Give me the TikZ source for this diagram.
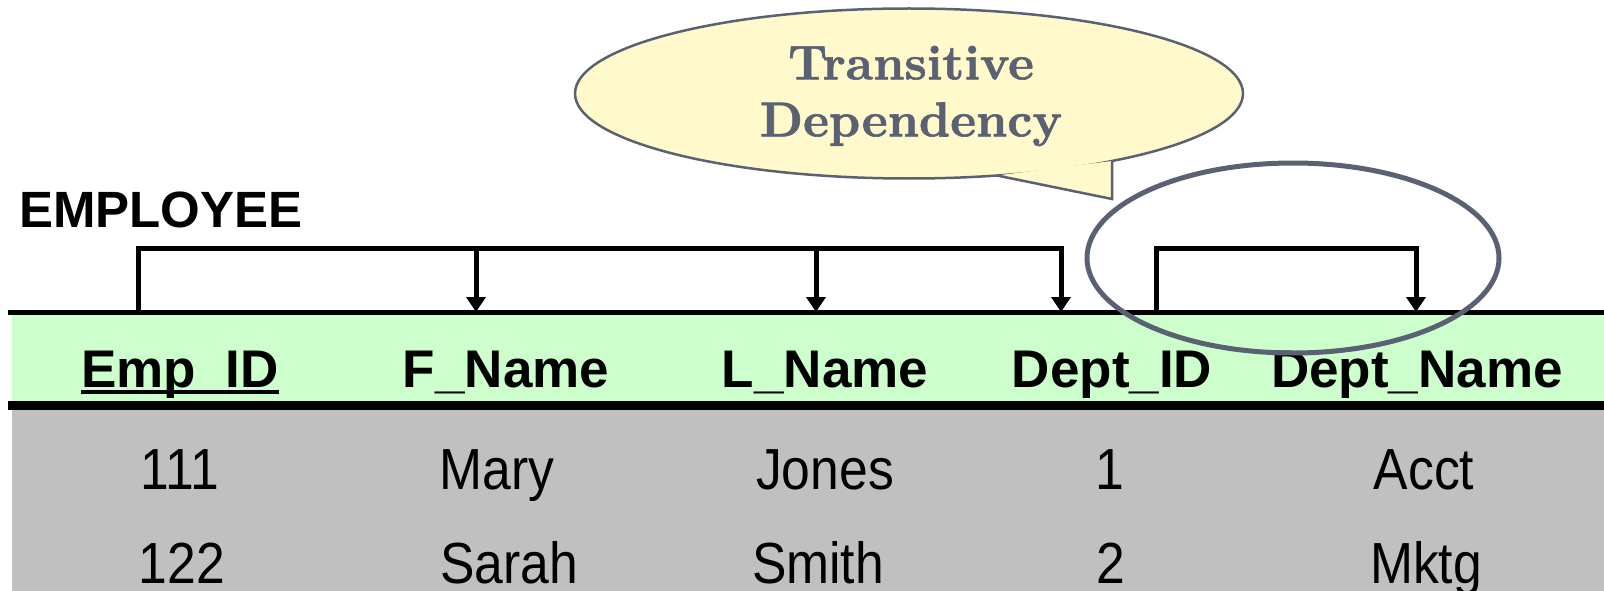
\documentclass[tikz,border=0pt]{standalone}
\usepackage{fontspec}
\newfontfamily\arialfont{Liberation Sans}
\newfontfamily\cellfont[FakeStretch=0.89]{Liberation Sans}
\newfontfamily\bubblefont[FakeBold=1.2]{lmroman10-bold.otf}
\usetikzlibrary{arrows.meta}
\definecolor{bubblefill}{HTML}{FFF9CC}
\definecolor{slate}{HTML}{5A6172}
\definecolor{hdrgreen}{HTML}{CCFFCC}
\definecolor{rowgray}{HTML}{C0C0C0}
\begin{document}
\begin{tikzpicture}[x=1pt,y=-1pt,
  title/.style={inner sep=0pt, anchor=base west, font=\arialfont\bfseries\fontsize{51}{58}\selectfont},
  hdr/.style={inner sep=0pt, anchor=base, font=\arialfont\bfseries\fontsize{53}{60}\selectfont},
  cell/.style={inner sep=0pt, anchor=base, font=\cellfont\fontsize{58}{66}\selectfont},
  deparrow/.style={line width=5pt, line join=miter, -{Triangle[width=19pt,length=15pt]}},
  bubbletext/.style={inner sep=0pt, align=center, text=slate, font=\bubblefont\fontsize{49}{57}\selectfont},
]
\useasboundingbox (0,0) rectangle (1604,591);
% table bands
\fill[rowgray] (12,409) rectangle (1604,591);
\fill[hdrgreen] (12,312) rectangle (1604,405);
\draw[line width=5pt] (8,312) -- (1604,312);
\draw[line width=9pt] (8,405) -- (1604,405);
% title
\node[title] (emp) at (19,227) {EMPLOYEE};
% header
\node[hdr] (hEmp) at (180,387) {Emp\_ID};
\node[hdr] (hF) at (506,387) {F\_Name};
\node[hdr] (hL) at (825,387) {L\_Name};
\node[hdr] (hD) at (1112,387) {Dept\_ID};
\node[hdr] (hN) at (1417,387) {Dept\_Name};
\draw[line width=4pt] ([yshift=-5pt]hEmp.base west) -- ([yshift=-5pt]hEmp.base east);
% rows
\node[cell] (r1a) at (180,489) {111};
\node[cell] (r1b) at (497,489) {Mary};
\node[cell] (r1c) at (825,489) {Jones};
\node[cell] (r1d) at (1110,489) {1};
\node[cell] (r1e) at (1424,489) {Acct};
\node[cell] (r2a) at (182,583) {122};
\node[cell] (r2b) at (509,583) {Sarah};
\node[cell] (r2c) at (818,583) {Smith};
\node[cell] (r2d) at (1111,583) {2};
\node[cell] (r2e) at (1426,583) {Mktg};
% dependency brackets
\coordinate (kE) at (138,314);
\coordinate (kF) at (476,312);
\coordinate (kL) at (816,312);
\coordinate (kD) at (1061,312);
\coordinate (kD2) at (1156,314);
\coordinate (kN) at (1416,312);
\coordinate (bar) at (0,248);
\draw[deparrow] (kE) -- (kE|-bar) -- (kD|-bar) -- (kD);
\draw[deparrow] (kF|-bar) -- (kF);
\draw[deparrow] (kL|-bar) -- (kL);
\draw[deparrow] (kD2) -- (kD2|-bar) -- (kN|-bar) -- (kN);
% speech bubble
\coordinate (t1) at (997,175.5);
\coordinate (t2) at (1112,199);
\coordinate (t3) at (1112,161);
\fill[bubblefill, draw=slate, line width=2.5pt] (909,93.5) ellipse [x radius=334pt, y radius=85pt];
\fill[bubblefill] (t1) -- (t2) -- (t3) -- cycle;
\draw[slate, line width=2.5pt, line join=miter] (t1) -- (t2) -- (t3);
\node[bubbletext] (bub) at (911,96) {Transitive\\Dependency};
% highlight ellipse
\draw[slate, line width=5pt] (1293,258) ellipse [x radius=206pt, y radius=95pt];
\end{tikzpicture}
\end{document}
